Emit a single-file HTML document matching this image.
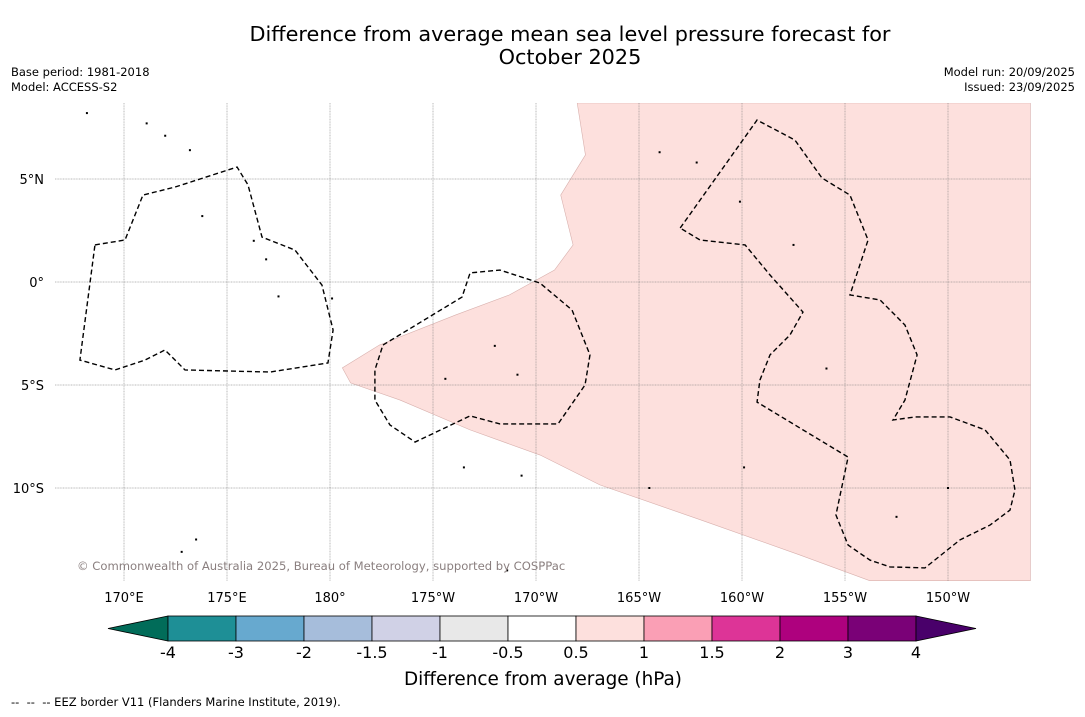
<!DOCTYPE html>
<html><head><meta charset="utf-8"><style>
body{margin:0;width:1085px;height:713px;background:#fff;font-family:"DejaVu Sans","Liberation Sans",sans-serif;overflow:hidden}
svg text{font-family:"DejaVu Sans","Liberation Sans",sans-serif}
</style></head><body>
<svg id="chart" width="1085" height="713" xmlns="http://www.w3.org/2000/svg">
<text x="570" y="41" font-size="20.8" text-anchor="middle">Difference from average mean sea level pressure forecast for</text>
<text x="570" y="64" font-size="20.8" text-anchor="middle">October 2025</text>
<text x="11" y="76" font-size="11.5">Base period: 1981-2018</text>
<text x="11" y="91" font-size="11.5">Model: ACCESS-S2</text>
<text x="1075" y="76" font-size="11.5" text-anchor="end">Model run: 20/09/2025</text>
<text x="1075" y="91" font-size="11.5" text-anchor="end">Issued: 23/09/2025</text>
<g id="map"></g>
<g id="cbar"></g>
<text x="543" y="685" font-size="18.4" text-anchor="middle">Difference from average (hPa)</text>
<text x="11" y="706" font-size="11.5" xml:space="preserve">--  --  -- EEZ border V11 (Flanders Marine Institute, 2019).</text>
</svg>
<script>
const lonTicks=[170,175,180,185,190,195,200,205,210];
const lonLabels=["170°E","175°E","180°","175°W","170°W","165°W","160°W","155°W","150°W"];
const latTicks=[5,0,-5,-10];
const latLabels=["5°N","0°","5°S","10°S"];
const pinkLon=[192.0,192.4,191.2,191.8,190.9,188.7,186.1,182.4,180.6,181.0,183.4,186.8,190.2,193.1,198.0,202.8,206.2,214.0,214.0];
const pinkLat=[8.69,6.17,4.22,1.8,0.58,-0.63,-1.6,-3.06,-4.17,-4.9,-5.73,-7.18,-8.4,-9.85,-11.55,-13.25,-14.5,-14.5,8.69];
const eezALon=[168.59,170.05,170.92,172.48,175.49,176.02,176.70,178.30,179.61,180.15,179.90,177.09,172.96,171.99,171.02,169.56,167.86,168.59];
const eezALat=[1.80,2.04,4.22,4.61,5.58,4.71,2.18,1.55,-0.15,-2.33,-3.93,-4.37,-4.27,-3.30,-3.79,-4.27,-3.79,1.80];
const eezBLon=[182.57,186.41,186.80,188.25,190.19,191.75,192.62,192.38,191.07,188.25,186.80,184.13,182.91,182.18,182.18,182.57];
const eezBLat=[-3.06,-0.73,0.44,0.58,-0.05,-1.36,-3.54,-5.0,-6.89,-6.89,-6.50,-7.77,-6.94,-5.73,-4.27,-3.06];
const eezCLon=[197.0,200.73,202.57,203.88,205.24,206.12,205.24,206.70,207.91,208.50,207.91,207.33,208.40,210.10,211.80,213.01,213.25,213.01,212.04,210.58,208.88,207.18,206.21,205.15,204.56,205.15,200.73,200.87,201.36,202.33,202.96,201.36,200.15,197.96,197.0];
const eezCLat=[2.62,7.86,6.89,5.05,4.22,2.04,-0.63,-0.87,-2.09,-3.54,-5.73,-6.70,-6.55,-6.55,-7.18,-8.64,-10.10,-11.07,-11.80,-12.52,-13.88,-13.83,-13.50,-12.77,-11.31,-8.50,-5.83,-4.76,-3.54,-2.57,-1.46,0.34,1.80,2.04,2.62];
const islandLon=[172.0,173.2,173.8,176.3,176.9,177.5,180.1,185.6,188.0,189.1,189.3,195.5,196.0,197.8,199.9,202.5,204.1,207.5,210.0,188.6,173.5,172.8,186.5,168.2,171.1,200.1];
const islandLat=[7.1,6.4,3.2,2.0,1.1,-0.7,-0.8,-4.7,-3.1,-4.5,-9.4,-10.0,6.3,5.8,3.9,1.8,-4.2,-11.4,-10.0,-14.0,-12.5,-13.1,-9.0,8.2,7.7,-9.0];
const cbBounds=["-4","-3","-2","-1.5","-1","-0.5","0.5","1","1.5","2","3","4"];
const cbColors=["#1e8f96","#67a9cf","#a6bddb","#d0d1e6","#e8e8e8","#ffffff","#fde0dd","#fa9fb5","#dd3497","#ae017e","#7a0177"];
const X0=55,X1=1031,Y0=103,Y1=581;
function xs(lon){return 124+(lon-170)*20.6;}
function ys(lat){return 282-lat*20.6;}
const NS="http://www.w3.org/2000/svg";
const map=document.getElementById('map');
function mk(tag,attrs,parent){const e=document.createElementNS(NS,tag);for(const k in attrs)e.setAttribute(k,attrs[k]);parent.appendChild(e);return e;}
const clip=mk('clipPath',{id:'mc'},map);mk('rect',{x:X0,y:Y0,width:X1-X0,height:Y1-Y0},clip);
const g=mk('g',{'clip-path':'url(#mc)'},map);
const pink=mk('path',{d:pinkLon.map((l,i)=>(i?'L':'M')+xs(l)+','+ys(pinkLat[i])).join('')+'Z',fill:'#fde0dd',stroke:'#d8b0ad','stroke-width':0.6},g);


lonTicks.forEach((l,i)=>{
 const ln=mk('line',{x1:xs(l),x2:xs(l),y1:Y0,y2:Y1,stroke:'#777','stroke-width':0.5,'stroke-dasharray':'1,0.6'},g);
 
 
 const t=mk('text',{x:xs(l),y:602,'font-size':13,'text-anchor':'middle'},map);t.textContent=lonLabels[i];
 
 
});
latTicks.forEach((l,i)=>{
 const ln=mk('line',{x1:X0,x2:X1,y1:ys(l),y2:ys(l),stroke:'#777','stroke-width':0.5,'stroke-dasharray':'1,0.6'},g);
 
 
 const t=mk('text',{x:44,y:ys(l)+5,'font-size':13,'text-anchor':'end'},map);t.textContent=latLabels[i];
 
 
});
[[eezALon,eezALat],[eezBLon,eezBLat],[eezCLon,eezCLat]].forEach(([lo,la])=>{
 const p=mk('path',{d:lo.map((l,i)=>(i?'L':'M')+xs(l)+','+ys(la[i])).join(''),fill:'none',stroke:'#000','stroke-width':1.4,'stroke-dasharray':'5,3'},g);
 
 
});
islandLon.forEach((l,i)=>{
 const c=mk('rect',{x:xs(l)-1,y:ys(islandLat[i])-1,width:2,height:2,fill:'#000'},g);
 
 
});
const cr=mk('text',{x:77,y:570,'font-size':11.6,fill:'#8a7f7f'},map);cr.textContent='© Commonwealth of Australia 2025, Bureau of Meteorology, supported by COSPPac';


const cb=document.getElementById('cbar');
const CB0=168,W=68,CY=616,CH=25;
const lt=mk('polygon',{points:`108,${CY+CH/2} ${CB0},${CY} ${CB0},${CY+CH}`,fill:'#016c59',stroke:'#000','stroke-width':0.8},cb);


cbColors.forEach((c,i)=>{
 const r=mk('rect',{x:CB0+i*W,y:CY,width:W,height:CH,fill:c,stroke:'#000','stroke-width':0.8},cb);
 
 
});
const end=CB0+cbColors.length*W;
const rt=mk('polygon',{points:`${end},${CY} ${end+60},${CY+CH/2} ${end},${CY+CH}`,fill:'#49006a',stroke:'#000','stroke-width':0.8},cb);


cbBounds.forEach((b,i)=>{
 const t=mk('text',{x:CB0+i*W,y:658,'font-size':16,'text-anchor':'middle'},cb);t.textContent=b;
 
 
});
</script>
</body></html>
